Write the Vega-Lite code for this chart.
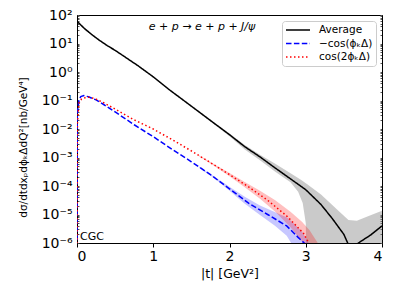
{
  "$schema": "https://vega.github.io/schema/vega-lite/v6.json",
  "width": 305,
  "height": 228,
  "autosize": "none",
  "padding": {"left": 77, "top": 15, "right": 17, "bottom": 56},
  "config": {
    "view": {"stroke": "black", "strokeWidth": 1},
    "font": "DejaVu Sans",
    "axis": {"grid": false, "domainColor": "black", "tickColor": "black", "labelColor": "black", "titleColor": "black", "titleFontWeight": "normal", "labelFont": "DejaVu Sans", "titleFont": "DejaVu Sans"}
  },
  "datasets": {
    "lines": [
      {"t": 0, "v": 60.3, "s": "Average"},
      {"t": 0.1, "v": 33.1, "s": "Average"},
      {"t": 0.2, "v": 20.0, "s": "Average"},
      {"t": 0.3, "v": 12.6, "s": "Average"},
      {"t": 0.4, "v": 8.32, "s": "Average"},
      {"t": 0.5, "v": 5.75, "s": "Average"},
      {"t": 0.6, "v": 3.80, "s": "Average"},
      {"t": 0.8, "v": 1.66, "s": "Average"},
      {"t": 1.0, "v": 0.676, "s": "Average"},
      {"t": 1.2, "v": 0.251, "s": "Average"},
      {"t": 1.4, "v": 0.1, "s": "Average"},
      {"t": 1.6, "v": 0.0398, "s": "Average"},
      {"t": 1.8, "v": 0.0158, "s": "Average"},
      {"t": 2.0, "v": 0.00631, "s": "Average"},
      {"t": 2.2, "v": 0.0024, "s": "Average"},
      {"t": 2.4, "v": 0.00105, "s": "Average"},
      {"t": 2.6, "v": 0.000427, "s": "Average"},
      {"t": 2.8, "v": 0.000178, "s": "Average"},
      {"t": 3.0, "v": 7.41e-5, "s": "Average"},
      {"t": 3.2, "v": 2.24e-5, "s": "Average"},
      {"t": 3.35, "v": 7.08e-6, "s": "Average"},
      {"t": 3.5, "v": 2.0e-6, "s": "Average"},
      {"t": 3.55, "v": 1.0e-6, "s": "Average"},
      {"t": 3.6, "v": 1e-8, "s": "Average"},
      {"t": 3.65, "v": 1e-8, "s": "Average"},
      {"t": 3.69, "v": 1e-6, "s": "Average"},
      {"t": 3.85, "v": 1.9e-6, "s": "Average"},
      {"t": 4.0, "v": 3.98e-6, "s": "Average"},

      {"t": 0, "v": 1e-7, "s": "−cos(ϕₖΔ)"},
      {"t": 0.004, "v": 0.0355, "s": "−cos(ϕₖΔ)"},
      {"t": 0.025, "v": 0.105, "s": "−cos(ϕₖΔ)"},
      {"t": 0.05, "v": 0.138, "s": "−cos(ϕₖΔ)"},
      {"t": 0.09, "v": 0.148, "s": "−cos(ϕₖΔ)"},
      {"t": 0.15, "v": 0.135, "s": "−cos(ϕₖΔ)"},
      {"t": 0.25, "v": 0.105, "s": "−cos(ϕₖΔ)"},
      {"t": 0.35, "v": 0.0724, "s": "−cos(ϕₖΔ)"},
      {"t": 0.5, "v": 0.0398, "s": "−cos(ϕₖΔ)"},
      {"t": 0.75, "v": 0.0141, "s": "−cos(ϕₖΔ)"},
      {"t": 1.0, "v": 0.00537, "s": "−cos(ϕₖΔ)"},
      {"t": 1.25, "v": 0.00191, "s": "−cos(ϕₖΔ)"},
      {"t": 1.5, "v": 0.000708, "s": "−cos(ϕₖΔ)"},
      {"t": 1.75, "v": 0.000251, "s": "−cos(ϕₖΔ)"},
      {"t": 2.0, "v": 7.94e-5, "s": "−cos(ϕₖΔ)"},
      {"t": 2.25, "v": 2.51e-5, "s": "−cos(ϕₖΔ)"},
      {"t": 2.5, "v": 1.0e-5, "s": "−cos(ϕₖΔ)"},
      {"t": 2.75, "v": 3.98e-6, "s": "−cos(ϕₖΔ)"},
      {"t": 2.9, "v": 1.58e-6, "s": "−cos(ϕₖΔ)"},
      {"t": 3.0, "v": 8.9e-7, "s": "−cos(ϕₖΔ)"},

      {"t": 0, "v": 1e-7, "s": "cos(2ϕₖΔ)"},
      {"t": 0.005, "v": 0.0158, "s": "cos(2ϕₖΔ)"},
      {"t": 0.025, "v": 0.0794, "s": "cos(2ϕₖΔ)"},
      {"t": 0.06, "v": 0.112, "s": "cos(2ϕₖΔ)"},
      {"t": 0.12, "v": 0.129, "s": "cos(2ϕₖΔ)"},
      {"t": 0.17, "v": 0.129, "s": "cos(2ϕₖΔ)"},
      {"t": 0.25, "v": 0.112, "s": "cos(2ϕₖΔ)"},
      {"t": 0.35, "v": 0.0832, "s": "cos(2ϕₖΔ)"},
      {"t": 0.5, "v": 0.0501, "s": "cos(2ϕₖΔ)"},
      {"t": 0.75, "v": 0.0209, "s": "cos(2ϕₖΔ)"},
      {"t": 1.0, "v": 0.01, "s": "cos(2ϕₖΔ)"},
      {"t": 1.25, "v": 0.00417, "s": "cos(2ϕₖΔ)"},
      {"t": 1.5, "v": 0.0017, "s": "cos(2ϕₖΔ)"},
      {"t": 1.75, "v": 0.000661, "s": "cos(2ϕₖΔ)"},
      {"t": 2.0, "v": 0.000251, "s": "cos(2ϕₖΔ)"},
      {"t": 2.25, "v": 9.33e-5, "s": "cos(2ϕₖΔ)"},
      {"t": 2.5, "v": 3.16e-5, "s": "cos(2ϕₖΔ)"},
      {"t": 2.75, "v": 8.91e-6, "s": "cos(2ϕₖΔ)"},
      {"t": 2.97, "v": 2.19e-6, "s": "cos(2ϕₖΔ)"},
      {"t": 3.05, "v": 8.9e-7, "s": "cos(2ϕₖΔ)"}
    ],
    "bands": [
      {"t": 1.6, "hi": 0.0417, "lo": 0.0380, "s": "Average"},
      {"t": 1.8, "hi": 0.0166, "lo": 0.0148, "s": "Average"},
      {"t": 2.0, "hi": 0.00692, "lo": 0.00562, "s": "Average"},
      {"t": 2.2, "hi": 0.00275, "lo": 0.00191, "s": "Average"},
      {"t": 2.4, "hi": 0.00126, "lo": 0.000794, "s": "Average"},
      {"t": 2.6, "hi": 0.000603, "lo": 0.000316, "s": "Average"},
      {"t": 2.8, "hi": 0.000282, "lo": 0.000135, "s": "Average"},
      {"t": 2.9, "hi": 0.000191, "lo": 6.31e-5, "s": "Average"},
      {"t": 2.96, "hi": 0.000151, "lo": 2.51e-5, "s": "Average"},
      {"t": 3.0, "hi": 0.000126, "lo": 5.01e-6, "s": "Average"},
      {"t": 3.02, "hi": 0.000115, "lo": 1e-8, "s": "Average"},
      {"t": 3.2, "hi": 5.01e-5, "lo": 1e-8, "s": "Average"},
      {"t": 3.4, "hi": 1.58e-5, "lo": 1e-8, "s": "Average"},
      {"t": 3.56, "hi": 6.46e-6, "lo": 1e-8, "s": "Average"},
      {"t": 3.67, "hi": 6.03e-6, "lo": 1e-8, "s": "Average"},
      {"t": 3.8, "hi": 8.32e-6, "lo": 1e-8, "s": "Average"},
      {"t": 4.0, "hi": 1.35e-5, "lo": 1e-8, "s": "Average"},

      {"t": 1.6, "hi": 0.000479, "lo": 0.000437, "s": "−cos(ϕₖΔ)"},
      {"t": 1.8, "hi": 0.000214, "lo": 0.000186, "s": "−cos(ϕₖΔ)"},
      {"t": 2.0, "hi": 9.33e-5, "lo": 6.76e-5, "s": "−cos(ϕₖΔ)"},
      {"t": 2.2, "hi": 4.17e-5, "lo": 2.4e-5, "s": "−cos(ϕₖΔ)"},
      {"t": 2.4, "hi": 2.09e-5, "lo": 9.55e-6, "s": "−cos(ϕₖΔ)"},
      {"t": 2.6, "hi": 1.2e-5, "lo": 3.98e-6, "s": "−cos(ϕₖΔ)"},
      {"t": 2.75, "hi": 7.94e-6, "lo": 1.78e-6, "s": "−cos(ϕₖΔ)"},
      {"t": 2.82, "hi": 5.62e-6, "lo": 8.9e-7, "s": "−cos(ϕₖΔ)"},
      {"t": 2.95, "hi": 2.51e-6, "lo": 1e-8, "s": "−cos(ϕₖΔ)"},
      {"t": 3.05, "hi": 8.9e-7, "lo": 1e-8, "s": "−cos(ϕₖΔ)"},

      {"t": 1.6, "hi": 0.0012, "lo": 0.0011, "s": "cos(2ϕₖΔ)"},
      {"t": 1.8, "hi": 0.000575, "lo": 0.000501, "s": "cos(2ϕₖΔ)"},
      {"t": 2.0, "hi": 0.000288, "lo": 0.000219, "s": "cos(2ϕₖΔ)"},
      {"t": 2.2, "hi": 0.000138, "lo": 9.12e-5, "s": "cos(2ϕₖΔ)"},
      {"t": 2.4, "hi": 6.76e-5, "lo": 3.55e-5, "s": "cos(2ϕₖΔ)"},
      {"t": 2.6, "hi": 3.16e-5, "lo": 1.26e-5, "s": "cos(2ϕₖΔ)"},
      {"t": 2.8, "hi": 1.26e-5, "lo": 3.55e-6, "s": "cos(2ϕₖΔ)"},
      {"t": 2.95, "hi": 5.62e-6, "lo": 1.12e-6, "s": "cos(2ϕₖΔ)"},
      {"t": 3.05, "hi": 2.82e-6, "lo": 1e-8, "s": "cos(2ϕₖΔ)"},
      {"t": 3.17, "hi": 8.9e-7, "lo": 1e-8, "s": "cos(2ϕₖΔ)"}
    ]
  },
  "resolve": {"axis": {"y": "independent"}},
  "layer": [
    {
      "data": {"name": "bands"},
      "transform": [{"filter": "datum.s == 'Average'"}],
      "mark": {"type": "area", "clip": true, "color": "#808080", "fillOpacity": 0.42},
      "encoding": {
        "x": {"field": "t", "type": "quantitative", "scale": {"domain": [0, 4]},
          "axis": {"values": [0, 1, 2, 3, 4], "format": "d", "labelFontSize": 14, "title": "|t| [GeV²]", "titleFontSize": 12.5, "tickSize": 4, "labelPadding": 2, "titlePadding": 4}},
        "y": {"field": "hi", "type": "quantitative", "scale": {"type": "log", "domain": [1e-6, 100]},
          "axis": {
            "orient": "left",
            "values": [1e-6,2e-6,3e-6,4e-6,5e-6,6e-6,7e-6,8e-6,9e-6,1e-5,2e-5,3e-5,4e-5,5e-5,6e-5,7e-5,8e-5,9e-5,1e-4,2e-4,3e-4,4e-4,5e-4,6e-4,7e-4,8e-4,9e-4,0.001,0.002,0.003,0.004,0.005,0.006,0.007,0.008,0.009,0.01,0.02,0.03,0.04,0.05,0.06,0.07,0.08,0.09,0.1,0.2,0.3,0.4,0.5,0.6,0.7,0.8,0.9,1,2,3,4,5,6,7,8,9,10,20,30,40,50,60,70,80,90,100],
            "labelExpr": "datum.value == 100 ? '10²' : datum.value == 10 ? '10¹' : datum.value == 1 ? '10⁰' : datum.value == 0.1 ? '10⁻¹' : datum.value == 0.01 ? '10⁻²' : datum.value == 0.001 ? '10⁻³' : datum.value == 1e-4 ? '10⁻⁴' : datum.value == 1e-5 ? '10⁻⁵' : datum.value == 1e-6 ? '10⁻⁶' : ''",
            "labelOverlap": false,
            "labelFontSize": 14,
            "labelBound": false,
            "labelFlush": false,
            "tickSize": -2,
            "tickColor": "#555555",
            "labelPadding": 7,
            "title": "dσ/dtdxₚdϕₖΔdQ²[nb/GeV⁴]",
            "titleFontSize": 10.5,
            "titleX": -54,
            "titleY": 132,
            "titleAngle": -90,
            "titleAlign": "center",
            "titleBaseline": "middle"
          }},
        "y2": {"field": "lo"}
      }
    },
    {
      "data": {"name": "bands"},
      "transform": [{"filter": "datum.s == '−cos(ϕₖΔ)'"}],
      "mark": {"type": "area", "clip": true, "color": "#0000ff", "fillOpacity": 0.22},
      "encoding": {
        "x": {"field": "t", "type": "quantitative"},
        "y": {"field": "hi", "type": "quantitative", "axis": null},
        "y2": {"field": "lo"}
      }
    },
    {
      "data": {"name": "bands"},
      "transform": [{"filter": "datum.s == 'cos(2ϕₖΔ)'"}],
      "mark": {"type": "area", "clip": true, "color": "#ff0000", "fillOpacity": 0.25},
      "encoding": {
        "x": {"field": "t", "type": "quantitative"},
        "y": {"field": "hi", "type": "quantitative", "axis": null},
        "y2": {"field": "lo"}
      }
    },
    {
      "data": {"name": "lines"},
      "mark": {"type": "line", "clip": true, "strokeWidth": 1.5},
      "encoding": {
        "x": {"field": "t", "type": "quantitative"},
        "y": {"field": "v", "type": "quantitative",
          "axis": {
            "orient": "right",
            "values": [1e-6,2e-6,3e-6,4e-6,5e-6,6e-6,7e-6,8e-6,9e-6,1e-5,2e-5,3e-5,4e-5,5e-5,6e-5,7e-5,8e-5,9e-5,1e-4,2e-4,3e-4,4e-4,5e-4,6e-4,7e-4,8e-4,9e-4,0.001,0.002,0.003,0.004,0.005,0.006,0.007,0.008,0.009,0.01,0.02,0.03,0.04,0.05,0.06,0.07,0.08,0.09,0.1,0.2,0.3,0.4,0.5,0.6,0.7,0.8,0.9,1,2,3,4,5,6,7,8,9,10,20,30,40,50,60,70,80,90,100],
            "labels": false, "title": null, "tickSize": -2, "tickColor": "#555555"
          }},
        "stroke": {"field": "s", "type": "nominal", "scale": {"domain": ["Average", "−cos(ϕₖΔ)", "cos(2ϕₖΔ)"], "range": ["black", "#0000ff", "#ff0000"]},
          "legend": {"title": null, "orient": "top-right", "offset": 6, "symbolType": "M-1,0H3.8", "symbolSize": 100, "symbolStrokeWidth": 1.5, "labelFontSize": 10.5, "labelFont": "DejaVu Sans", "labelOffset": 22, "rowPadding": 1.5, "padding": 3, "strokeColor": "#cccccc", "fillColor": "white", "cornerRadius": 3}},
        "strokeDash": {"field": "s", "type": "nominal", "scale": {"domain": ["Average", "−cos(ϕₖΔ)", "cos(2ϕₖΔ)"], "range": [[1, 0], [5.5, 2.4], [1.5, 2.5]]},
          "legend": {"title": null, "orient": "top-right", "offset": 6, "symbolType": "M-1,0H3.8", "symbolSize": 100, "symbolStrokeWidth": 1.5, "labelFontSize": 10.5, "labelFont": "DejaVu Sans", "labelOffset": 22, "rowPadding": 1.5, "padding": 3, "strokeColor": "#cccccc", "fillColor": "white", "cornerRadius": 3}}
      }
    },
    {
      "data": {"values": [{}]},
      "mark": {"type": "text", "fontStyle": "italic", "fontSize": 11, "align": "center", "baseline": "alphabetic", "font": "DejaVu Sans"},
      "encoding": {
        "x": {"datum": 1.64, "type": "quantitative"},
        "y": {"datum": 29.6, "type": "quantitative", "axis": null},
        "text": {"value": "e + p → e + p + J/ψ"}
      }
    },
    {
      "data": {"values": [{}]},
      "mark": {"type": "text", "fontSize": 11, "align": "left", "baseline": "alphabetic", "font": "DejaVu Sans"},
      "encoding": {
        "x": {"datum": 0.04, "type": "quantitative"},
        "y": {"datum": 1.3e-6, "type": "quantitative", "axis": null},
        "text": {"value": "CGC"}
      }
    }
  ]
}
